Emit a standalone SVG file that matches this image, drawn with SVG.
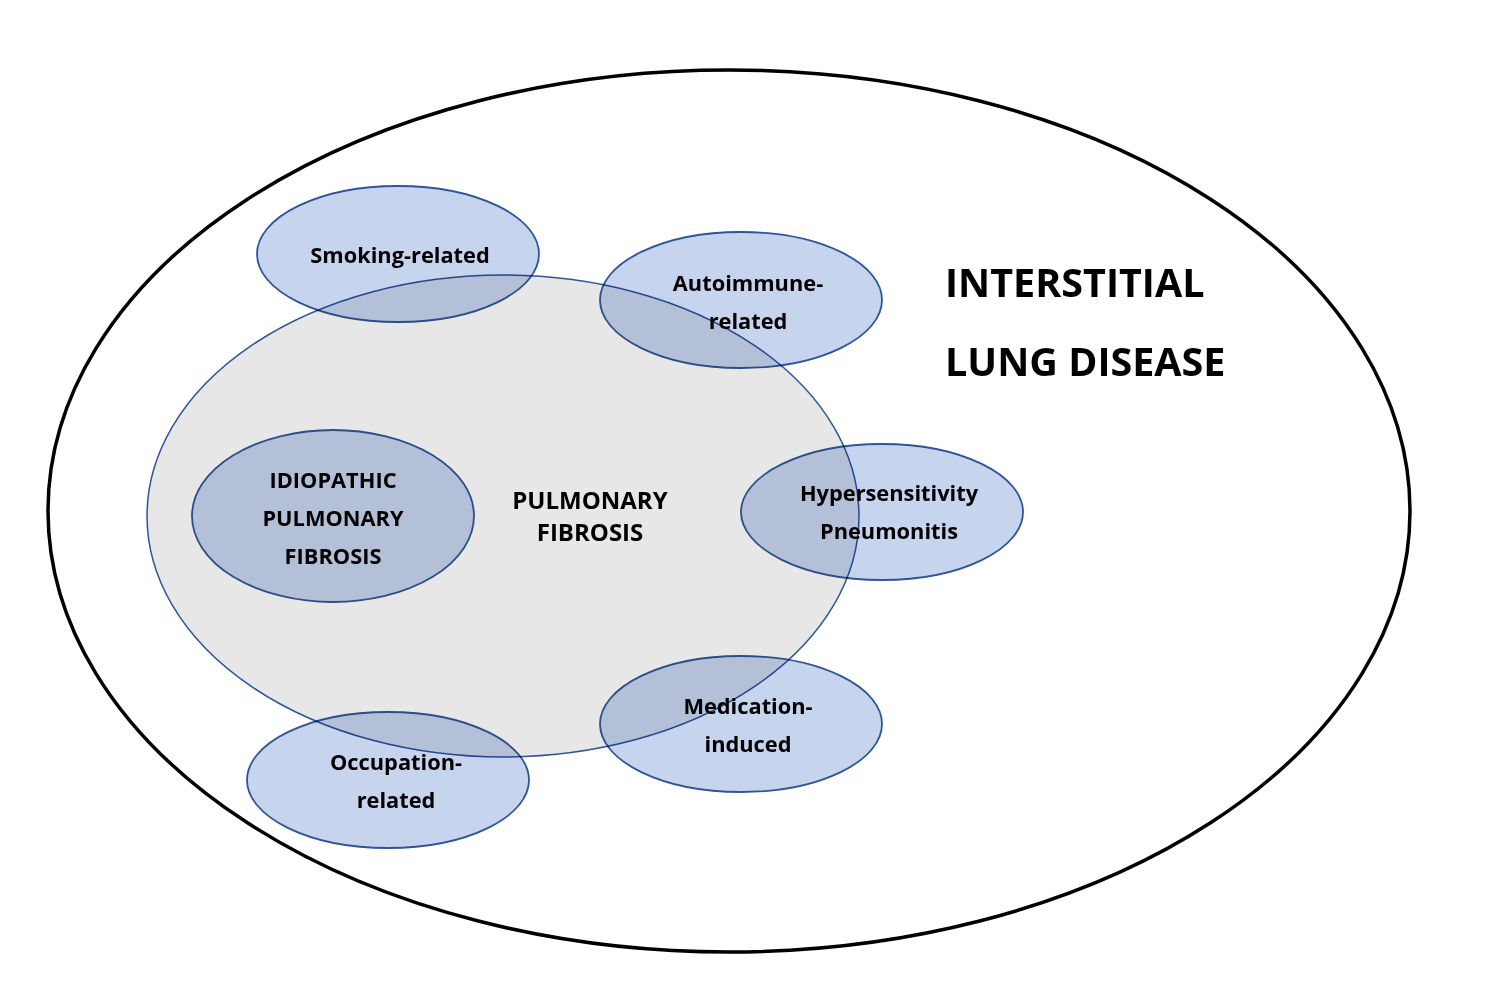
<svg xmlns="http://www.w3.org/2000/svg" width="1500" height="999" viewBox="0 0 1500 999">
<style>
.outer{fill:#ffffff;stroke:#000000;stroke-width:3.5}
.pf{fill:#e7e7e7;stroke:#2f5597;stroke-width:1.5}
.sub{fill:#c6d4ee;stroke:#2f5597;stroke-width:1.8;mix-blend-mode:multiply}
.t{font-family:"Open Sans","Liberation Sans",sans-serif;font-weight:bold;fill:#000000;text-anchor:middle}
.s{font-size:21.8px}
.c{font-size:24px}
.big{font-size:39.5px;text-anchor:start}
</style>
<rect width="1500" height="999" fill="#ffffff"/>
<g id="ild">
<ellipse class="outer" cx="729" cy="511" rx="681" ry="441"/>
</g>
<g id="pulmonary-fibrosis">
<ellipse class="pf" cx="503" cy="516" rx="356" ry="241"/>
</g>
<g id="nodes">
<g id="smoking"><ellipse class="sub" cx="398" cy="254" rx="141" ry="68"/></g>
<g id="autoimmune"><ellipse class="sub" cx="741" cy="300" rx="141" ry="68"/></g>
<g id="ipf"><ellipse class="sub" cx="333" cy="516" rx="141" ry="86"/></g>
<g id="hypersensitivity"><ellipse class="sub" cx="882" cy="512" rx="141" ry="68"/></g>
<g id="medication"><ellipse class="sub" cx="741" cy="724" rx="141" ry="68"/></g>
<g id="occupation"><ellipse class="sub" cx="388" cy="780" rx="141" ry="68"/></g>
</g>
<g id="connectors"></g>
<g id="labels">
<text class="t s" x="400" y="263">Smoking-related</text>
<text class="t s" x="748" y="291">Autoimmune-</text>
<text class="t s" x="748" y="329">related</text>
<text class="t s" x="333" y="488">IDIOPATHIC</text>
<text class="t s" x="333" y="526">PULMONARY</text>
<text class="t s" x="333" y="564">FIBROSIS</text>
<text class="t c" x="590" y="509">PULMONARY</text>
<text class="t c" x="590" y="541">FIBROSIS</text>
<text class="t s" x="889" y="501">Hypersensitivity</text>
<text class="t s" x="889" y="539">Pneumonitis</text>
<text class="t s" x="748" y="714">Medication-</text>
<text class="t s" x="748" y="752">induced</text>
<text class="t s" x="396" y="770">Occupation-</text>
<text class="t s" x="396" y="808">related</text>
<text class="t big" x="945" y="297">INTERSTITIAL</text>
<text class="t big" x="945" y="376">LUNG DISEASE</text>
</g>
</svg>
